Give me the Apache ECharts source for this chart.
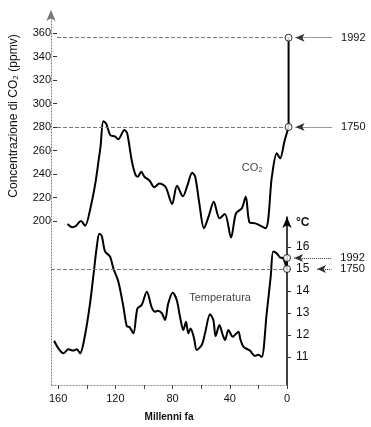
<!DOCTYPE html>
<html><head><meta charset="utf-8">
<script src="https://cdn.jsdelivr.net/npm/echarts@6/dist/echarts.min.js"></script>
<style>html,body{margin:0;padding:0;background:#fff}#c{width:371px;height:427px}</style>
</head><body><div id="c"></div>
<script>
// Millennia ago (x) – labelled ticks
const xLabels = [160, 120, 80, 40, 0];
const co2TickLabels = [200, 220, 240, 260, 280, 300, 320, 340, 360];
const tempTickLabels = [11, 12, 13, 14, 15, 16];

// CO2 curve (ppmv) vs millennia ago
const co2Ky = [157.5,154,151.6,148,145,141,137.7,135.3,134,132,130,127,123.7,121.4,117,115,111.6,109,107.4,105,102.7,99,95.7,92,87.6,83,79.5,75.3,72,68.7,66.6,63.6,60.3,57,53.3,49.2,45.4,41,37.5,33.3,30.5,27.7,23.5,16.5,11.9,8.4,6,3,0];
const co2Val = [197.4,194.6,195.7,200,196,212,232,252,263,285,283,273,272,269.5,277.5,274.6,250.5,239,237.7,242,237.7,234.3,228.7,232,229,214.5,230,221,230.6,241,238,215,193.8,203.7,216.4,202.3,206,186,206.5,210.8,220.7,198.6,198,193.8,237.7,257.6,253.4,267.5,280];

// Temperature curve (°C) vs millennia ago
const tempKy = [162.8,159.8,156.3,152.8,149.3,147,144.7,141.2,137.7,135.3,133,131.2,129.5,127.2,123.7,121.4,117.9,114.4,112,110,107.4,104.6,101.6,98,94.6,92.2,90.6,87.6,85.3,83,79.9,77.1,74.8,72.5,70.6,69,67.4,65,63.1,59.6,57.3,53.8,51.5,49.9,47.3,44.9,43.3,41,37.9,34,32.6,30.5,25.9,22.4,20,17.7,14.2,11.4,9.6,7.2,4.9,2.6,1.4,0];
const tempVal = [11.74,11.39,11.17,11.35,11.29,11.35,11.17,12.0,13.44,14.73,16.0,16.6,16.5,15.8,15.56,15.03,14.42,13.29,12.4,12.35,12.08,13.2,13.36,13.97,13.26,13.06,13.1,13.0,12.68,13.44,13.92,13.59,12.83,12.23,12.6,12.08,12.3,11.85,11.32,11.55,12.08,12.94,12.68,11.95,12.45,12.0,11.77,12.23,11.92,12.15,11.8,11.47,11.29,11.05,11.1,11.0,12.98,14.65,15.79,15.71,15.53,15.48,15.29,15.0];

// Recent reference points
const recentYears = ['1750', '1992'];
const recentCo2 = [280, 356];
const recentTemp = [15.0, 15.5];

const FONT = 'Liberation Sans';
const W = 371, L = 51, R = 84;
const XMAX = 165;
// wide data grids share the pixel scale of the framed plot
const XMIN_WIDE = XMAX - (W - L) * XMAX / (W - L - R);
const zip = (a, b) => a.map((v, i) => [v, b[i]]);
const hiddenX = (gi, wide) => ({type:'value', gridIndex: gi, min: wide ? XMIN_WIDE : 0, max: XMAX, inverse:true, show:false});
const hiddenY = (gi, mn, mx) => ({type:'value', gridIndex: gi, min: mn, max: mx, show:false});

const arrowLine = (vals, near) => ({
  silent: true, symbol: ['arrow', 'none'], symbolSize: [6, 9],
  lineStyle: {type: 'dotted', color: '#333', width: 1},
  label: {show: true, position: 'end', distance: 9, formatter: p => p.name, color: '#111', fontSize: 11, fontFamily: FONT},
  data: recentYears.map((yr, i) => [{name: yr, coord: [near[i], vals[i]]}, {coord: [-31, vals[i]]}])
});
const refLine = (vals) => ({
  silent: true, symbol: 'none', label: {show: false},
  lineStyle: {type: 'dashed', color: '#777', width: 1},
  data: vals.map(v => [{coord: [XMAX, v]}, {coord: [0, v]}])
});

const option = {
  animation: false,
  grid: [
    {left: L, right: R, top: 10, bottom: 42},   // 0 frame
    {left: L, right: 0, top: 33, bottom: 206},  // 1 CO2 data + left axis
    {left: L, right: 0, top: 247, bottom: 70},  // 2 temp data
    {left: L, right: R, top: 247, bottom: 70},  // 3 temp ticks
    {left: L, right: R, top: 217, bottom: 42}   // 4 temp axis line
  ],
  xAxis: [
    {type:'value', gridIndex:0, min:0, max:XMAX, inverse:true, interval:20,
     axisLine:{onZero:false, lineStyle:{color:'#888', type:[1,2], width:1}},
     axisTick:{length:4, lineStyle:{color:'#444'}},
     splitLine:{show:false},
     axisLabel:{showMaxLabel:false, margin:8, color:'#111', fontSize:11, fontFamily:FONT,
       formatter: v => xLabels.includes(v) ? String(v) : ''},
     name:'Millenni fa', nameLocation:'middle', nameGap:27,
     nameTextStyle:{fontSize:10, fontWeight:'bold', color:'#111', fontFamily:FONT}},
    hiddenX(1, true), hiddenX(2, true), hiddenX(3, false), hiddenX(4, false)
  ],
  yAxis: [
    {type:'value', gridIndex:0, min:0, max:1, position:'left',
     axisLine:{show:true, onZero:false, symbol:['none','arrow'], symbolSize:[7,11], lineStyle:{color:'#777', type:[1,2], width:1}},
     axisTick:{show:false}, axisLabel:{show:false}, splitLine:{show:false}},
    {type:'value', gridIndex:1, min:200, max:360, interval:20, position:'left',
     axisLine:{show:false, onZero:false}, splitLine:{show:false},
     axisTick:{show:true, length:4, lineStyle:{color:'#333'}},
     axisLabel:{margin:6, color:'#111', fontSize:11, fontFamily:FONT,
       formatter: v => co2TickLabels.includes(v) ? String(v) : ''},
     name:'Concentrazione di CO₂ (ppmv)', nameLocation:'middle', nameGap:37,
     nameTextStyle:{fontSize:12, color:'#111', fontFamily:FONT, padding:[0,0,0,22]}},
    hiddenY(2, 11, 16),
    {type:'value', gridIndex:3, min:11, max:16, interval:1, position:'right',
     axisLine:{show:false, onZero:false}, splitLine:{show:false},
     axisTick:{show:true, length:4, lineStyle:{color:'#333'}},
     axisLabel:{margin:9, color:'#111', fontSize:12, fontFamily:FONT,
       formatter: v => tempTickLabels.includes(v) ? String(v) : ''}},
    {type:'value', gridIndex:4, min:0, max:1, position:'right',
     axisLine:{show:true, onZero:false, symbol:['none','arrow'], symbolSize:[7,11], lineStyle:{color:'#000', width:1.5}},
     axisTick:{show:false}, axisLabel:{show:false}, splitLine:{show:false},
     name:'°C', nameLocation:'end', nameGap:-6,
     nameTextStyle:{align:'left', verticalAlign:'middle', padding:[0,0,0,9], fontSize:12, fontWeight:'bold', color:'#111', fontFamily:FONT}}
  ],
  series: [
    {type:'line', xAxisIndex:1, yAxisIndex:1, clip:false, symbol:'none', smooth:0.3,
     lineStyle:{color:'#000', width:2}, data: zip(co2Ky, co2Val),
     markLine: refLine(recentCo2)},
    {type:'line', xAxisIndex:1, yAxisIndex:1, clip:false, symbol:'none',
     lineStyle:{color:'#000', width:2}, data: recentCo2.map(v => [0, v]),
     markLine: arrowLine(recentCo2, [-5, -5])},
    {type:'line', xAxisIndex:2, yAxisIndex:2, clip:false, symbol:'none', smooth:0.3,
     lineStyle:{color:'#000', width:2}, data: zip(tempKy, tempVal),
     markLine: refLine([recentTemp[0]])},
    {type:'line', xAxisIndex:2, yAxisIndex:2, clip:false, symbol:'none',
     lineStyle:{color:'#000', width:1.5}, data: recentTemp.map(v => [0, v]),
     markLine: arrowLine(recentTemp, [-21, -5])},
    {type:'scatter', xAxisIndex:1, yAxisIndex:1, clip:false, symbol:'circle', symbolSize:7, z:5,
     itemStyle:{color:'#fff', borderColor:'#000', borderWidth:1}, data: recentCo2.map(v => [0, v])},
    {type:'scatter', xAxisIndex:2, yAxisIndex:2, clip:false, symbol:'circle', symbolSize:7, z:5,
     itemStyle:{color:'#fff', borderColor:'#000', borderWidth:1}, data: recentTemp.map(v => [0, v])},
    {type:'scatter', xAxisIndex:1, yAxisIndex:1, clip:false, symbolSize:0, silent:true,
     label:{show:true, position:'inside', formatter:'CO₂', color:'#111', fontSize:11, fontFamily:FONT},
     data:[[26, 245]]},
    {type:'scatter', xAxisIndex:2, yAxisIndex:2, clip:false, symbolSize:0, silent:true,
     label:{show:true, position:'inside', formatter:'Temperatura', color:'#111', fontSize:11, fontFamily:FONT},
     data:[[46.8, 13.68]]}
  ]
};
const chart = echarts.init(document.getElementById('c'), null, {renderer:'canvas'});
chart.setOption(option);
</script></body></html>
